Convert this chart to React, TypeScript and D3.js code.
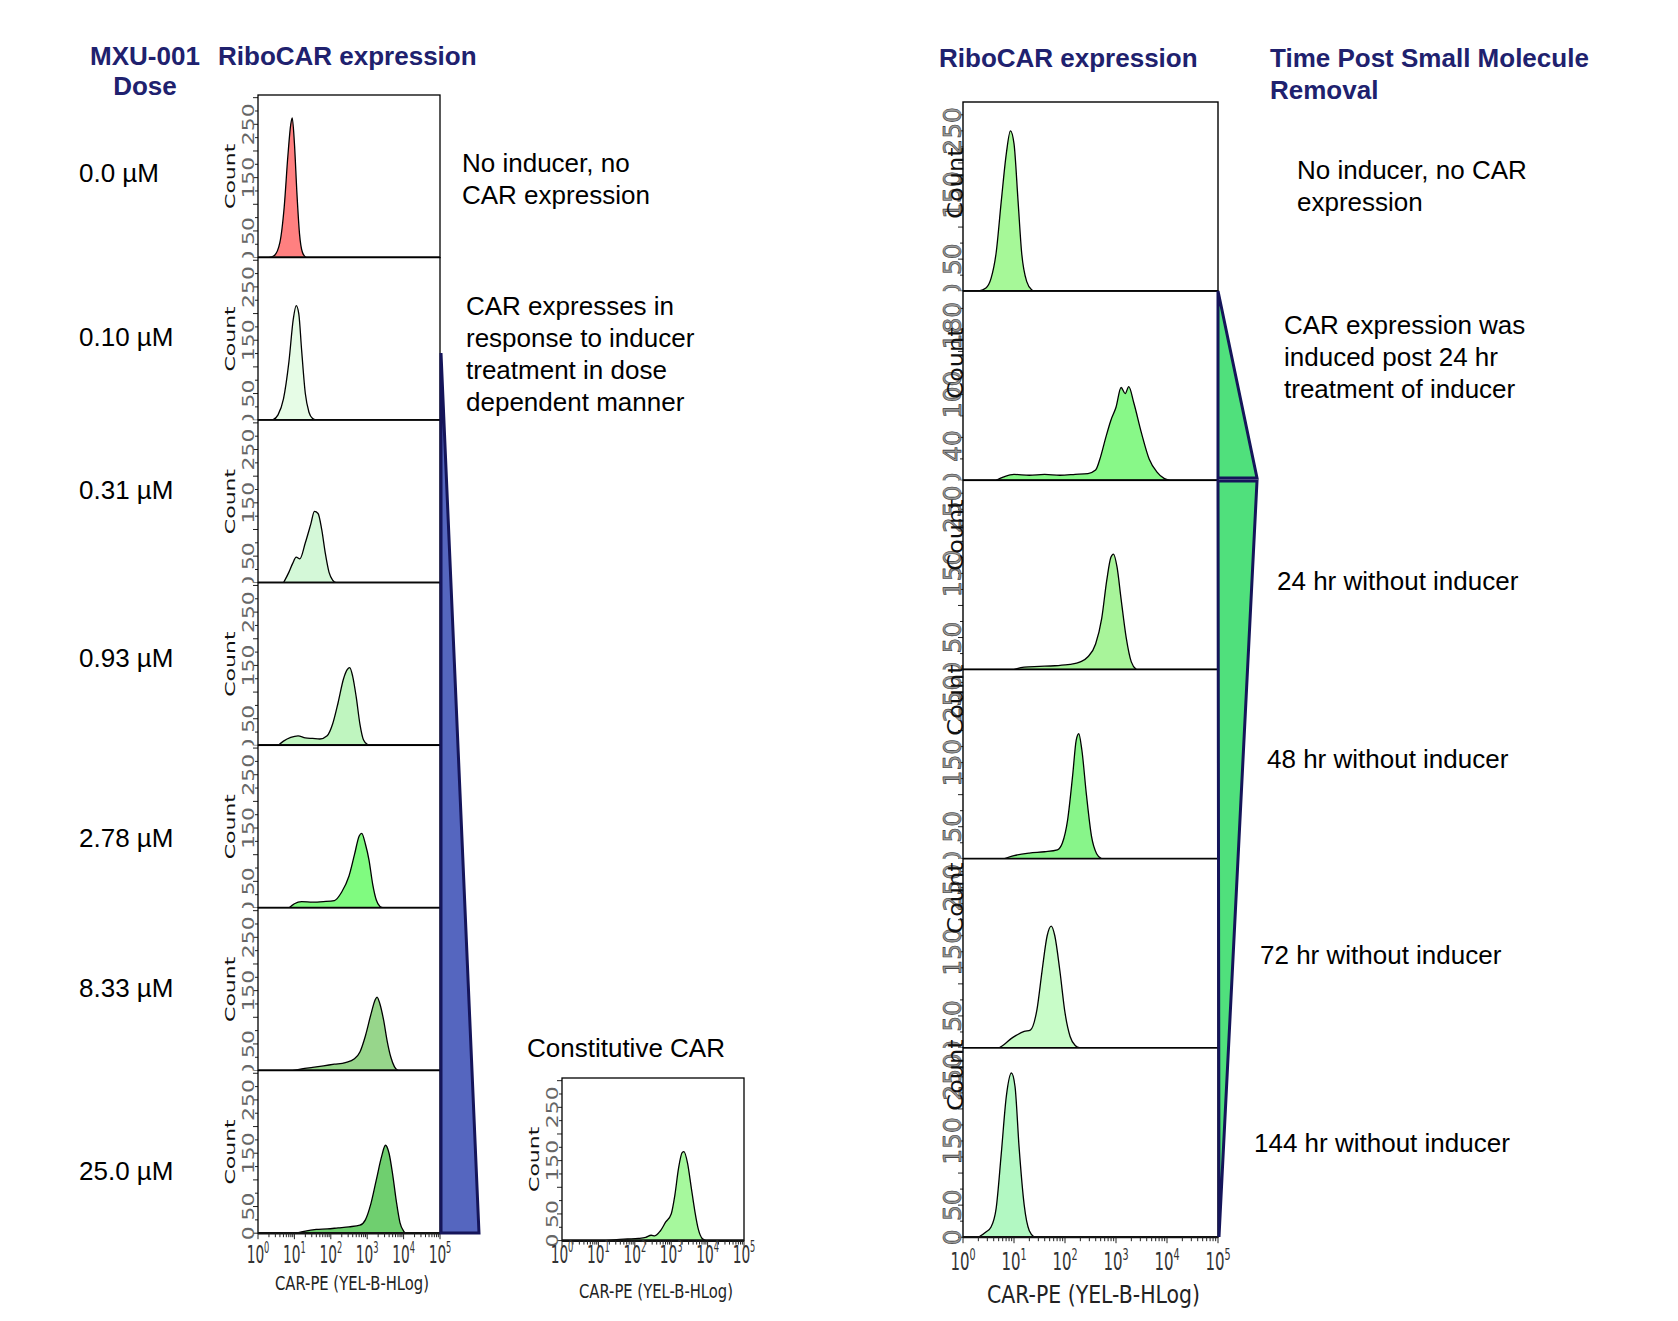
import React, { useEffect, useRef } from 'react';
import * as d3 from 'd3';

// Flow histograms, points are [log10 CAR-PE (YEL-B-HLog), count]

// left column: MXU-001 dose series
const dose00: [number, number][] = [[0.3,0],[0.45,4],[0.6,28],[0.72,95],[0.82,190],[0.9,250],[0.94,262],[1.0,215],[1.07,120],[1.14,45],[1.22,10],[1.32,0]];
const dose010: [number, number][] = [[0.4,0],[0.55,10],[0.7,40],[0.85,110],[0.97,190],[1.05,215],[1.12,200],[1.2,130],[1.3,50],[1.4,15],[1.5,3],[1.6,0]];
const dose031: [number, number][] = [[0.7,0],[0.85,20],[0.95,36],[1.05,48],[1.15,45],[1.3,75],[1.45,110],[1.55,134],[1.65,130],[1.75,100],[1.85,55],[1.95,20],[2.05,5],[2.15,0]];
const dose093: [number, number][] = [[0.55,0],[0.7,8],[0.9,15],[1.1,18],[1.3,14],[1.5,13],[1.7,12],[1.9,18],[2.05,40],[2.2,80],[2.35,125],[2.45,142],[2.52,146],[2.6,130],[2.7,90],[2.8,40],[2.9,10],[3.0,2],[3.1,0]];
const dose278: [number, number][] = [[0.85,0],[1.0,8],[1.2,12],[1.5,11],[1.8,12],[2.1,14],[2.3,30],[2.5,60],[2.65,100],[2.78,135],[2.85,140],[2.95,120],[3.05,90],[3.15,45],[3.25,15],[3.35,3],[3.45,0]];
const dose833: [number, number][] = [[0.95,0],[1.2,3],[1.5,6],[1.8,9],[2.1,12],[2.4,15],[2.65,22],[2.8,35],[2.95,65],[3.1,105],[3.22,133],[3.27,138],[3.35,125],[3.45,95],[3.55,55],[3.65,25],[3.75,7],[3.85,0]];
const dose250: [number, number][] = [[1.05,0],[1.3,4],[1.6,7],[1.9,8],[2.2,10],[2.5,12],[2.8,15],[2.95,25],[3.1,55],[3.25,100],[3.4,145],[3.5,165],[3.6,150],[3.7,110],[3.8,60],[3.9,20],[4.0,4],[4.05,0]];
const constitutive: [number, number][] = [[1.2,0],[1.5,2],[1.8,3],[2.1,4],[2.3,6],[2.45,10],[2.55,9],[2.7,18],[2.85,35],[3.0,50],[3.1,85],[3.2,135],[3.3,165],[3.35,167],[3.45,145],[3.55,100],[3.65,55],[3.75,20],[3.85,4],[3.95,0]];

// right column: time course after removal
const noInducer: [number, number][] = [[0.3,0],[0.45,5],[0.55,20],[0.65,60],[0.75,140],[0.85,215],[0.93,250],[1.0,230],[1.08,140],[1.15,60],[1.25,15],[1.35,2],[1.4,0]];
const induced24: [number, number][] = [[0.65,0],[0.8,4],[1.0,7],[1.3,6],[1.6,7],[1.9,6],[2.2,7],[2.45,8],[2.6,12],[2.7,28],[2.8,50],[2.9,70],[3.0,85],[3.1,108],[3.18,101],[3.25,109],[3.35,90],[3.5,55],[3.65,25],[3.8,10],[3.95,2],[4.05,0]];
const off24: [number, number][] = [[1.0,0],[1.2,4],[1.5,5],[1.8,6],[2.1,8],[2.3,12],[2.45,20],[2.6,40],[2.72,80],[2.82,140],[2.9,175],[2.95,180],[3.02,160],[3.1,110],[3.2,50],[3.3,12],[3.4,0]];
const off48: [number, number][] = [[0.8,0],[1.0,5],[1.3,9],[1.6,11],[1.85,14],[1.95,25],[2.05,60],[2.15,130],[2.22,185],[2.27,195],[2.33,170],[2.42,100],[2.52,35],[2.62,8],[2.72,0]];
const off72: [number, number][] = [[0.7,0],[0.8,5],[0.95,15],[1.05,20],[1.2,26],[1.32,28],[1.45,60],[1.55,120],[1.65,175],[1.73,190],[1.8,175],[1.9,120],[2.0,55],[2.1,18],[2.2,4],[2.3,0]];
const off144: [number, number][] = [[0.3,0],[0.45,8],[0.55,16],[0.65,45],[0.75,130],[0.85,220],[0.95,256],[1.02,235],[1.1,140],[1.2,50],[1.3,10],[1.4,0]];

const doseLabels = ['0.0 µM', '0.10 µM', '0.31 µM', '0.93 µM', '2.78 µM', '8.33 µM', '25.0 µM'];
const leftYLabels = [0, 50, 150, 250];
const rightYLabels = [0, 50, 150, 250];
const inducedYLabels = [0, 40, 100, 180];
const decades = [0, 1, 2, 3, 4, 5];

const leftNotes = [['No inducer, no', 'CAR expression'], ['CAR expresses in', 'response to inducer', 'treatment in dose', 'dependent manner']];
const rightNotes = [['No inducer, no CAR', 'expression'], ['CAR expression was', 'induced post 24 hr', 'treatment of inducer'], ['24 hr without inducer'], ['48 hr without inducer'], ['72 hr without inducer'], ['144 hr without inducer']];

const doseFills = ['#ff8080', '#e6fce6', '#d4f8d8', '#bff5bf', '#80fb80', '#97d68b', '#6fcf6f'];
const timeFills = ['#a6f898', '#88f888', '#a8f49a', '#88f58a', '#c8fcc8', '#b2f8c2'];

const NAVY = '#20216e';
const SANS = 'Liberation Sans, Arial, sans-serif';
const DV = 'DejaVu Sans, Verdana, sans-serif';

const leftStyle = {
  w: 182, h: 162.6, bgPad: 45, yStep: 25,
  labelDx: -10, labelFont: 22, labelSx: 0.7, labelFill: '#666', labelStroke: 'none',
  countDx: -28, countFont: 22, countSx: 0.65,
  xFont: 25, xSx: 0.55, xSup: 15, xDy: 30, titleFont: 19, titleLen: 154, titleDy: 57,
  border: 1.3, bottom: 2.6,
};
const rightStyle = {
  w: 255, h: 189.2, bgPad: 48, yStep: 25,
  labelDx: -11, labelFont: 25, labelSx: 1.0, labelFill: '#999', labelStroke: '#333',
  countDx: -7, countFont: 24, countSx: 0.85,
  xFont: 25, xSx: 0.6, xSup: 16, xDy: 33, titleFont: 24, titleLen: 213, titleDy: 66,
  border: 1.4, bottom: 2.2,
};

let clipId = 0;

function drawPanel(root: any, x0: number, y0: number, st: any, hist: [number, number][], fill: string,
  yMax: number, yLabels: number[], countY: number, showX: boolean, xDy?: number) {
  const g = root.append('g');
  const { w, h } = st;
  const x = d3.scaleLog().domain([1, 1e5]).range([x0, x0 + w]);
  const y = d3.scaleLinear().domain([0, yMax]).range([y0 + h, y0]);

  g.append('rect').attr('x', x0 - st.bgPad).attr('y', y0).attr('width', w + st.bgPad).attr('height', h).attr('fill', '#fff');

  // y ticks
  d3.range(0, yMax + 0.1, st.yStep).forEach((v: number, i: number) => {
    g.append('line').attr('x1', x0).attr('x2', x0 - (i % 2 === 0 ? 5 : 3))
      .attr('y1', y(v)).attr('y2', y(v)).attr('stroke', '#222').attr('stroke-width', 1);
  });
  yLabels.forEach((v) => {
    g.append('g')
      .attr('transform', `translate(${x0 + st.labelDx},${y(v)}) scale(${st.labelSx},1) rotate(-90)`)
      .append('text').attr('text-anchor', 'middle').attr('dominant-baseline', 'central')
      .attr('font-family', DV).attr('font-size', st.labelFont)
      .attr('fill', st.labelFill).attr('stroke', st.labelStroke).attr('stroke-width', 0.6)
      .text(v);
  });
  g.append('g')
    .attr('transform', `translate(${x0 + st.countDx},${countY}) scale(${st.countSx},1) rotate(-90)`)
    .append('text').attr('text-anchor', 'middle').attr('dominant-baseline', 'central')
    .attr('font-family', DV).attr('font-size', st.countFont).attr('fill', '#111')
    .text('Count');

  const id = `clip${clipId++}`;
  g.append('clipPath').attr('id', id).append('rect').attr('x', x0).attr('y', y0).attr('width', w).attr('height', h);
  const area = d3.area<[number, number]>()
    .x((d) => x(Math.pow(10, d[0]))).y0(y(0)).y1((d) => y(d[1])).curve(d3.curveMonotoneX);
  const line = d3.line<[number, number]>()
    .x((d) => x(Math.pow(10, d[0]))).y((d) => y(d[1])).curve(d3.curveMonotoneX);
  const hg = g.append('g').attr('clip-path', `url(#${id})`);
  hg.append('path').attr('d', area(hist)).attr('fill', fill);
  hg.append('path').attr('d', line(hist)).attr('fill', 'none').attr('stroke', '#000').attr('stroke-width', 1.3);

  g.append('rect').attr('x', x0).attr('y', y0).attr('width', w).attr('height', h)
    .attr('fill', 'none').attr('stroke', '#000').attr('stroke-width', st.border);
  g.append('line').attr('x1', x0).attr('x2', x0 + w).attr('y1', y0 + h).attr('y2', y0 + h)
    .attr('stroke', '#111').attr('stroke-width', st.bottom);

  if (showX) {
    const minor: number[] = [];
    for (let k = 0; k < 5; k++) for (let m = 1; m < 10; m++) minor.push(m * Math.pow(10, k));
    minor.push(1e5);
    minor.forEach((v) => {
      const major = Math.abs(Math.log10(v) - Math.round(Math.log10(v))) < 1e-9;
      g.append('line').attr('x1', x(v)).attr('x2', x(v)).attr('y1', y0 + h).attr('y2', y0 + h + (major ? 6 : 4))
        .attr('stroke', '#222').attr('stroke-width', 1);
    });
    const dy = xDy ?? st.xDy;
    decades.forEach((k) => {
      const t = g.append('g')
        .attr('transform', `translate(${x(Math.pow(10, k))},${y0 + h + dy}) scale(${st.xSx},1)`)
        .append('text').attr('text-anchor', 'middle').attr('font-family', DV)
        .attr('font-size', st.xFont).attr('fill', '#333');
      t.append('tspan').text('10');
      t.append('tspan').attr('font-size', st.xSup).attr('dy', -st.xFont * 0.42).text(k);
    });
    g.append('text').attr('x', x0 + w / 2 + 3).attr('y', y0 + h + st.titleDy)
      .attr('text-anchor', 'middle').attr('font-family', DV).attr('font-size', st.titleFont)
      .attr('textLength', st.titleLen).attr('lengthAdjust', 'spacingAndGlyphs').attr('fill', '#222')
      .text('CAR-PE (YEL-B-HLog)');
  }
}

function addText(root: any, x: number, y: number, lines: string[], opts: any = {}) {
  const lh = opts.lh ?? 32;
  lines.forEach((s, i) => {
    root.append('text').attr('x', x).attr('y', y + i * lh)
      .attr('font-family', SANS).attr('font-size', opts.size ?? 26)
      .attr('font-weight', opts.bold ? 'bold' : 'normal')
      .attr('text-anchor', opts.anchor ?? 'start')
      .attr('fill', opts.color ?? '#000').text(s);
  });
}

const App = () => {
  const svgRef = useRef<SVGSVGElement>(null);

  useEffect(() => {
    if (!svgRef.current) return;
    const svg = d3.select(svgRef.current);
    svg.selectAll('*').remove();
    svg.append('rect').attr('width', 1678).attr('height', 1321).attr('fill', '#fff');

    // headers
    addText(svg, 145, 65, ['MXU-001', 'Dose'], { bold: true, color: NAVY, anchor: 'middle', lh: 30 });
    addText(svg, 218, 65, ['RiboCAR expression'], { bold: true, color: NAVY });
    addText(svg, 939, 67, ['RiboCAR expression'], { bold: true, color: NAVY });
    addText(svg, 1270, 67, ['Time Post Small Molecule', 'Removal'], { bold: true, color: NAVY });

    // left column
    const doseHists = [dose00, dose010, dose031, dose093, dose278, dose833, dose250];
    const doseY = [182, 346, 499, 667, 847, 997, 1180];
    doseHists.forEach((hist, i) => {
      const top = 95 + i * leftStyle.h;
      drawPanel(svg, 258, top, leftStyle, hist, doseFills[i], 305, leftYLabels, top + leftStyle.h / 2, i === doseHists.length - 1);
      addText(svg, 79, doseY[i], [doseLabels[i]]);
    });

    // dose wedge
    svg.append('path')
      .attr('d', d3.line()([[441, 353], [441, 1233], [479, 1233]]) + 'Z')
      .attr('fill', '#5566bf').attr('stroke', '#15155a').attr('stroke-width', 3).attr('stroke-linejoin', 'miter');

    addText(svg, 462, 172, leftNotes[0]);
    addText(svg, 466, 315, leftNotes[1]);

    // constitutive
    addText(svg, 527, 1057, ['Constitutive CAR']);
    drawPanel(svg, 562, 1078, leftStyle, constitutive, '#a6f89d', 305, leftYLabels, 1078 + leftStyle.h / 2, true, 22);

    // right column
    const timeHists = [noInducer, induced24, off24, off48, off72, off144];
    const countY = [183, 363, 535, 700, 898, 1075];
    timeHists.forEach((hist, i) => {
      const top = 102 + i * rightStyle.h;
      const induced = i === 1;
      drawPanel(svg, 963, top, rightStyle, hist, timeFills[i], induced ? 220 : 295,
        induced ? inducedYLabels : rightYLabels, countY[i], i === timeHists.length - 1);
    });

    // time wedge
    svg.append('path')
      .attr('d', d3.line()([[1218, 291], [1257, 478], [1218, 478]]) + 'Z')
      .attr('fill', '#50e07c').attr('stroke', '#15155a').attr('stroke-width', 3);
    svg.append('path')
      .attr('d', d3.line()([[1218, 481], [1257, 481], [1219, 1237]]) + 'Z')
      .attr('fill', '#50e07c').attr('stroke', '#15155a').attr('stroke-width', 3);

    const noteX = [1297, 1284, 1277, 1267, 1260, 1254];
    const noteY = [179, 334, 590, 768, 964, 1152];
    rightNotes.forEach((lines, i) => addText(svg, noteX[i], noteY[i], lines));
  }, []);

  return (
    <svg ref={svgRef} width={1678} height={1321} style={{ position: 'absolute', left: 0, top: 0, display: 'block' }}></svg>
  );
};

export default App;
